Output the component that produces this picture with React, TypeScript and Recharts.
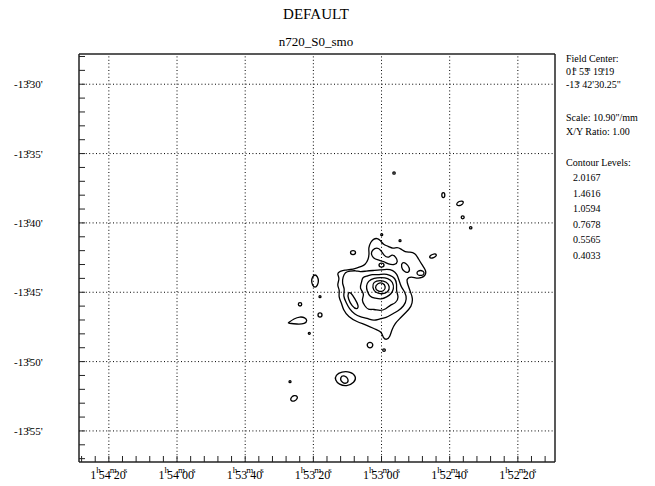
import React from "react";
import { ComposedChart, Line, XAxis, YAxis, ReferenceLine } from "recharts";

const FONT = "Liberation Serif, Times New Roman, serif";

// axes: x = RA seconds past 1h52m00s (east to the left), y = Dec arcmin (-13 deg ...)
const raDomain = [9.1, 148.76];
const decDomain = [-57.24, -27.82];
const raTicks = [12, 16, 20, 24, 28, 32, 36, 40, 44, 48, 52, 56, 60, 64, 68, 72, 76, 80, 84, 88, 92, 96, 100, 104, 108, 112, 116, 120, 124, 128, 132, 136, 140, 144, 148];
const raMajor = [140, 120, 100, 80, 60, 40, 20];
const raLabels = ["1h54m20s", "1h54m00s", "1h53m40s", "1h53m20s", "1h53m00s", "1h52m40s", "1h52m20s"];
const decTicks = [-28, -29, -30, -31, -32, -33, -34, -35, -36, -37, -38, -39, -40, -41, -42, -43, -44, -45, -46, -47, -48, -49, -50, -51, -52, -53, -54, -55, -56, -57];
const decMajor = [-30, -35, -40, -45, -50, -55];
const decLabels = ["-13°30'", "-13°35'", "-13°40'", "-13°45'", "-13°50'", "-13°55'"];

const title = "DEFAULT";
const subtitle = "n720_S0_smo";
const contourLevels = ["2.0167", "1.4616", "1.0594", "0.7678", "0.5565", "0.4033"];

// contour outlines [ra, dec]
const lvl1Main = [
  [73.15, -43.64], [72.18, -43.49], [70.71, -43.38], [69.24, -43.38], [67.28, -43.25], [65.81, -43.13],
  [64.84, -43.02], [63.87, -42.66], [63.58, -42.17], [63.87, -41.81], [63.17, -41.38], [62.41, -41.16],
  [61.23, -41.09], [60.24, -41.28], [59.47, -41.57], [58.09, -41.67], [56.63, -41.88], [55.45, -41.74],
  [54.28, -41.88], [53.11, -42.1], [51.64, -42.1], [50.17, -42.17], [49.29, -42.53], [48.12, -43.04],
  [46.95, -43.4], [46.95, -43.83], [49.29, -44.05], [51.35, -43.83], [52.81, -44.05], [52.23, -44.48],
  [51.64, -44.91], [50.76, -45.42], [51.14, -46.04], [53.11, -46.52], [54.57, -46.88], [56.04, -47.24],
  [57.01, -47.72], [57.51, -48.21], [58.48, -48.45], [59.56, -48.3], [59.94, -47.85], [61.41, -47.72],
  [64.34, -47.36], [67.28, -47.13], [69.74, -46.77], [71.21, -46.28], [71.68, -45.8], [72.68, -45.32],
  [72.18, -44.84], [73.15, -44.48], [72.18, -44.0],
];
const lvl2Main = [
  [71.3, -43.9], [70.71, -43.54], [69.24, -43.47], [67.48, -43.43], [66.31, -43.54], [64.55, -43.47],
  [62.5, -43.43], [60.44, -43.4], [58.39, -43.33], [56.63, -43.4], [55.45, -43.69], [54.87, -44.12],
  [54.28, -44.62], [53.11, -44.98], [52.52, -45.49], [53.4, -46.0], [55.16, -46.35], [56.92, -46.57],
  [58.68, -46.86], [60.44, -46.9], [62.2, -47.08], [64.24, -46.86], [66.31, -46.79], [67.93, -46.57],
  [69.46, -46.21], [70.42, -45.71], [71.3, -45.27], [70.71, -44.77], [71.62, -44.34],
];
const lvl2Finger = [[69.88, -44.98], [68.95, -45.02], [67.78, -45.49], [66.6, -46.0], [67.19, -46.28], [68.66, -46.0], [69.83, -45.49]];
const lvl2Lobe = [
  [62.79, -41.96], [61.32, -41.74], [60.15, -41.96], [59.27, -42.39], [57.8, -42.53], [56.92, -42.24],
  [55.75, -42.46], [55.16, -42.82], [56.04, -43.04], [58.09, -42.97], [59.27, -42.78], [61.03, -42.68],
  [62.5, -42.53], [63.08, -42.24],
];
const lvl2East = [[53.99, -42.82], [52.81, -42.89], [51.64, -43.25], [51.93, -43.61], [53.4, -43.54], [54.28, -43.18]];
const lvl2Tip = [[50.1, -43.61], [48.56, -43.34], [47.02, -43.61], [48.56, -43.88]];
const lvl2Knot = [[61.1, -43.04], [60.0, -42.82], [58.9, -43.04], [60.0, -43.26]];
const lvl3Main = [
  [65.72, -43.9], [63.96, -43.83], [62.79, -43.69], [61.03, -43.76], [59.27, -43.65], [57.51, -43.76],
  [56.04, -43.97], [55.45, -44.41], [55.75, -44.91], [54.87, -45.34], [55.75, -45.78], [57.51, -45.92],
  [58.68, -46.21], [60.44, -46.35], [62.2, -46.21], [63.96, -46.28], [64.86, -46.0], [65.98, -45.56],
  [64.86, -45.13], [66.6, -44.7], [65.72, -44.26],
];
const lvl4Main = [
  [63.96, -44.19], [62.2, -43.97], [60.15, -43.94], [58.09, -43.97], [56.63, -44.26], [56.33, -44.77],
  [57.22, -45.13], [58.39, -45.34], [60.15, -45.53], [61.91, -45.42], [63.38, -45.34], [64.24, -44.91],
  [64.53, -44.55],
];
const lvl5Main = [[62.41, -44.24], [60.44, -44.12], [58.48, -44.24], [57.51, -44.6], [58.01, -45.01], [59.94, -45.15], [61.91, -45.03], [62.7, -44.65]];
const lvl6Main = [[61.18, -44.34], [59.56, -44.3], [58.68, -44.6], [59.27, -44.95], [61.12, -44.95], [62.04, -44.66]];

// isolated knots
const knotNorth = [[56.86, -36.4], [56.33, -36.27], [55.8, -36.4], [56.33, -36.53]];
const knotNE1 = [[42.53, -37.99], [41.87, -37.72], [41.21, -37.99], [41.87, -38.26]];
const knotNE2 = [[35.57, -38.43], [36.6, -38.79], [38.37, -38.75], [37.34, -38.39]];
const knotNE3 = [[36.84, -39.6], [36.18, -39.44], [35.52, -39.6], [36.18, -39.76]];
const knotNE4 = [[34.36, -40.35], [33.83, -40.22], [33.3, -40.35], [33.83, -40.48]];
const knotTop1 = [[55.01, -41.28], [54.57, -41.17], [54.13, -41.28], [54.57, -41.39]];
const knotTop2 = [[60.38, -40.85], [59.94, -40.74], [59.5, -40.85], [59.94, -40.96]];
const knotWest = [[69.46, -42.14], [68.36, -41.92], [67.26, -42.14], [68.36, -42.36]];
const knotEast = [[43.44, -42.26], [44.63, -42.56], [46.34, -42.52], [45.15, -42.22]];
const knotW1 = [[80.98, -44.19], [79.51, -43.54], [78.04, -44.19], [79.51, -44.84]];
const knotW2 = [[78.49, -45.32], [78.05, -45.21], [77.61, -45.32], [78.05, -45.43]];
const knotW3 = [[84.66, -45.87], [83.91, -45.69], [83.16, -45.87], [83.91, -46.05]];
const knotW4 = [[78.93, -46.64], [78.05, -46.42], [77.17, -46.64], [78.05, -46.86]];
const knotW5 = [[87.43, -47.22], [87.43, -47.22], [85.67, -46.9], [83.91, -46.75], [82.45, -46.82], [81.71, -47.04], [82.45, -47.28], [84.79, -47.31]];
const knotW6 = [[81.63, -47.96], [81.19, -47.85], [80.75, -47.96], [81.19, -48.07]];
const knotS1 = [[64.61, -48.81], [63.38, -48.51], [62.15, -48.81], [63.38, -49.11]];
const knotS2 = [[59.86, -49.17], [59.27, -49.03], [58.68, -49.17], [59.27, -49.31]];
const knotS3 = [[73.5, -50.97], [71.74, -50.72], [69.1, -50.72], [67.34, -51.08], [67.92, -51.51], [70.27, -51.8], [72.47, -51.65], [73.64, -51.33]];
const knotS3In = [[72.32, -51.11], [70.71, -50.97], [69.68, -51.26], [69.88, -51.58], [71.62, -51.55]];
const knotSW1 = [[87.29, -51.45], [86.85, -51.34], [86.41, -51.45], [86.85, -51.56]];
const knotSW2 = [[87.14, -52.75], [85.67, -52.36], [84.2, -52.55], [85.67, -52.94]];

const contours = [
  lvl1Main, lvl2Main, lvl2Finger, lvl2Lobe, lvl2East, lvl2Tip, lvl2Knot, lvl3Main, lvl4Main, lvl5Main, lvl6Main,
  knotNorth, knotNE1, knotNE2, knotNE3, knotNE4, knotTop1, knotTop2, knotWest, knotEast,
  knotW1, knotW2, knotW3, knotW4, knotW5, knotW6, knotS1, knotS2, knotS3, knotS3In, knotSW1, knotSW2,
];

const toRows = (pts: number[][]) => pts.map(([ra, dec]) => ({ ra, dec }));

const RaTick = (props: any) => {
  const { x, y, payload } = props;
  const i = raMajor.indexOf(payload.value);
  if (i < 0) return <g />;
  const m = raLabels[i].match(/(\d+)h(\d+)m(\d+)s/) || [];
  return (
    <text x={x} y={y + 13} textAnchor="middle" fontFamily={FONT} fontSize={12} fill="#000">
      <tspan>{m[1]}</tspan>
      <tspan dx={0} dy={-6} fontSize={9}>h</tspan>
      <tspan dx={-2} dy={6}>{m[2]}</tspan>
      <tspan dx={-1} dy={-6} fontSize={9}>m</tspan>
      <tspan dx={-3} dy={6}>{m[3]}</tspan>
      <tspan dx={-2} dy={-6} fontSize={9}>s</tspan>
    </text>
  );
};

const DecTick = (props: any) => {
  const { x, y, payload } = props;
  const i = decMajor.indexOf(payload.value);
  if (i < 0) return <g />;
  const [deg, rest] = decLabels[i].split("°");
  return (
    <text x={x} y={y + 4} fontFamily={FONT} fontSize={11} fill="#000">
      <tspan>{deg}</tspan>
      <tspan dx={-2} dy={-4} fontSize={8}>o</tspan>
      <tspan dx={-1} dy={4}>{rest}</tspan>
    </text>
  );
};

const frame = { stroke: "#222", strokeWidth: 1.5 };
const tickStroke = { stroke: "#222", strokeWidth: 1 };

export default function App() {
  return (
    <div style={{ position: "relative", width: 647, height: 478 }}>
      <ComposedChart width={647} height={478} margin={{ top: 45, right: 99, bottom: 0, left: 0 }}>
        <XAxis xAxisId="b" type="number" dataKey="ra" domain={raDomain} reversed allowDataOverflow
          ticks={raTicks} interval={0} tickSize={-6} tickMargin={10} height={24}
          axisLine={frame} tickLine={tickStroke} tick={(p: any) => <RaTick {...p} />} />
        <XAxis xAxisId="t" orientation="top" type="number" dataKey="ra" domain={raDomain} reversed allowDataOverflow
          ticks={raTicks} interval={0} tickSize={-6} height={1} axisLine={frame} tickLine={tickStroke} tick={false} />
        <YAxis yAxisId="l" type="number" domain={decDomain} allowDataOverflow
          ticks={decTicks} interval={0} tickSize={-6} tickMargin={71} width={71}
          axisLine={frame} tickLine={tickStroke} tick={(p: any) => <DecTick {...p} />} />
        <YAxis yAxisId="r" orientation="right" type="number" domain={decDomain} allowDataOverflow
          ticks={decTicks} interval={0} tickSize={-6} width={1} axisLine={frame} tickLine={tickStroke} tick={false} />
        {raMajor.map((v) => (
          <ReferenceLine key={"x" + v} xAxisId="b" yAxisId="l" x={v} stroke="#000" strokeWidth={1} strokeDasharray="1 2.4" />
        ))}
        {decMajor.map((v) => (
          <ReferenceLine key={"y" + v} xAxisId="b" yAxisId="l" y={v} stroke="#000" strokeWidth={1} strokeDasharray="1 2.4" />
        ))}
        {contours.map((c, i) => (
          <Line key={"c" + i} xAxisId="b" yAxisId="l" data={toRows(c)} dataKey="dec" type="basisClosed"
            stroke="#000" strokeWidth={1.3} dot={false} activeDot={false} isAnimationActive={false} />
        ))}
      </ComposedChart>
      <svg width={655} height={486} style={{ position: "absolute", left: -8, top: -8, pointerEvents: "none", overflow: "visible" }}
        fontFamily={FONT} fill="#000">
        <text x={316} y={19} textAnchor="middle" fontSize={15}>{title}</text>
        <text x={316} y={45.5} textAnchor="middle" fontSize={13}>{subtitle}</text>
        <g fontSize={10}>
          <text x={566} y={62}>Field Center:</text>
          <text x={566} y={75}>
            <tspan>01</tspan>
            <tspan dx={-3} dy={-4} fontSize={7}>h</tspan>
            <tspan dx={0} dy={4}> 53</tspan>
            <tspan dx={-4} dy={-4} fontSize={7}>m</tspan>
            <tspan dx={0} dy={4}> 19</tspan>
            <tspan dx={-1} dy={-4} fontSize={7}>s</tspan>
            <tspan dx={-3} dy={4}>.19</tspan>
          </text>
          <text x={566} y={88}>
            <tspan>-13</tspan>
            <tspan dx={-3} dy={-4} fontSize={7}>o</tspan>
            <tspan dx={0} dy={4}> 42'30.25"</tspan>
          </text>
          <text x={566} y={121}>Scale: 10.90"/mm</text>
          <text x={566} y={135}>X/Y Ratio: 1.00</text>
          <text x={566} y={166}>Contour Levels:</text>
          {contourLevels.map((lv, i) => (
            <text key={lv} x={573} y={181 + i * 15.6}>{lv}</text>
          ))}
        </g>
      </svg>
    </div>
  );
}
